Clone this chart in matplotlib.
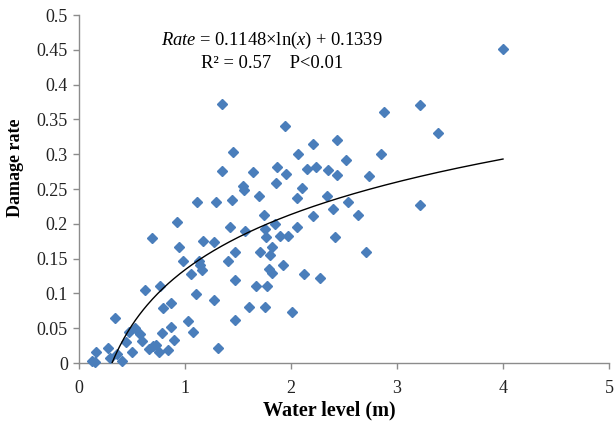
import numpy as np
import matplotlib
matplotlib.use("Agg")
import matplotlib.pyplot as plt

plt.rcParams['font.family'] = ['Liberation Serif', 'DejaVu Serif']
plt.rcParams['mathtext.fontset'] = 'custom'
plt.rcParams['mathtext.rm'] = 'Liberation Serif'
plt.rcParams['mathtext.it'] = 'Liberation Serif:italic'

water_level = [
    0.12, 0.15, 0.16, 0.27, 0.29, 0.34, 0.36, 0.41, 0.44, 0.47, 0.50, 0.53, 0.575, 0.59,
    0.62, 0.66, 0.685, 0.70, 0.73, 0.75, 0.76, 0.79, 0.785, 0.84, 0.87, 0.87, 0.90, 0.92,
    0.94, 0.98, 1.025, 1.057, 1.08, 1.10, 1.11,
    1.135, 1.14, 1.157, 1.167, 1.274, 1.274, 1.289, 1.308, 1.346, 1.346, 1.409, 1.425,
    1.44, 1.456, 1.472, 1.472, 1.472, 1.544, 1.557, 1.566, 1.607, 1.638, 1.67, 1.698,
    1.708, 1.745, 1.755, 1.755, 1.764, 1.77, 1.795, 1.80, 1.817, 1.817, 1.849, 1.858,
    1.871, 1.896, 1.92, 1.943, 1.953, 1.975, 2.006,
    2.06, 2.06, 2.063, 2.107, 2.123, 2.154, 2.204, 2.21, 2.233, 2.274, 2.337, 2.352,
    2.393, 2.415, 2.437, 2.437, 2.516, 2.535, 2.635, 2.708, 2.736, 2.85, 2.88, 3.22,
    3.22, 3.39, 4.0,
]
damage_rate = [
    0.003, 0.001, 0.016, 0.022, 0.007, 0.065, 0.013, 0.003, 0.030, 0.045, 0.016, 0.051, 0.041, 0.032,
    0.105, 0.020, 0.180, 0.024, 0.026, 0.016, 0.111, 0.079, 0.043, 0.018, 0.052, 0.086, 0.033, 0.203,
    0.167, 0.146, 0.061, 0.128, 0.045, 0.099, 0.232,
    0.147, 0.141, 0.134, 0.176, 0.174, 0.091, 0.232, 0.022, 0.372, 0.276, 0.146, 0.195,
    0.234, 0.303, 0.159, 0.119, 0.062, 0.254, 0.249, 0.189, 0.080, 0.274, 0.110, 0.240,
    0.160, 0.213, 0.193, 0.081, 0.181, 0.110, 0.135, 0.155, 0.167, 0.129, 0.199, 0.259,
    0.281, 0.182, 0.141, 0.341, 0.271, 0.182, 0.073,
    0.195, 0.237, 0.301, 0.252, 0.128, 0.279, 0.211, 0.315, 0.281, 0.122, 0.240, 0.277,
    0.221, 0.181, 0.320, 0.270, 0.291, 0.231, 0.213, 0.159, 0.269, 0.300, 0.361, 0.371,
    0.227, 0.331, 0.451,
]

# Trendline coefficients as printed on the chart
coef_a = 0.1148
coef_b = 0.1339
fit_x_max = 4.0

x_ticks = [0, 1, 2, 3, 4, 5]
y_ticks = [0, 0.05, 0.1, 0.15, 0.2, 0.25, 0.3, 0.35, 0.4, 0.45, 0.5]
y_tick_labels = ["0", "0.05", "0.1", "0.15", "0.2", "0.25", "0.3", "0.35", "0.4", "0.45", "0.5"]

fig = plt.figure(figsize=(6.15, 4.21), dpi=100)
ax = fig.add_axes([79/615, 58/421, 530/615, 348/421])

ax.plot(water_level, damage_rate, linestyle='none', marker='D', markersize=5.5,
        color='#4a7ebb', markeredgecolor='#4a7ebb', clip_on=False, zorder=3)

x0 = np.exp(-coef_b / coef_a)
xs = np.linspace(x0, fit_x_max, 300)
ax.plot(xs, coef_a * np.log(xs) + coef_b, color='black', linewidth=1.0, zorder=4)

ax.set_xlim(0, 5)
ax.set_ylim(0, 0.5)
ax.set_xticks(x_ticks)
ax.set_xticklabels([str(t) for t in x_ticks])
ax.set_yticks(y_ticks)
ax.set_yticklabels(y_tick_labels)

for s in ['top', 'right']:
    ax.spines[s].set_visible(False)
for s in ['left', 'bottom']:
    ax.spines[s].set_color('#8c8c8c')
    ax.spines[s].set_linewidth(1.0)
ax.tick_params(axis='both', direction='out', length=4, width=1.0, color='#8c8c8c',
               labelsize=13, labelcolor='#222222')
ax.tick_params(axis='x', pad=8)
ax.tick_params(axis='y', pad=4)

ax.set_xlabel("Water level (m)", fontsize=14.5, fontweight='bold')
ax.xaxis.set_label_coords(0.472, -0.107)
ax.set_ylabel("Damage rate", fontsize=13, fontweight='bold')
ax.yaxis.set_label_coords(-0.104, 0.56)

ax.text(0.364, 0.928, r"$\mathit{Rate}$ = 0.1148$\times$ln($\mathit{x}$) + 0.1339",
        transform=ax.transAxes, ha='center', va='center', fontsize=13.3)
ax.text(0.364, 0.862, "R² = 0.57    P<0.01",
        transform=ax.transAxes, ha='center', va='center', fontsize=13.3)

fig.savefig("out.png", dpi=100)
